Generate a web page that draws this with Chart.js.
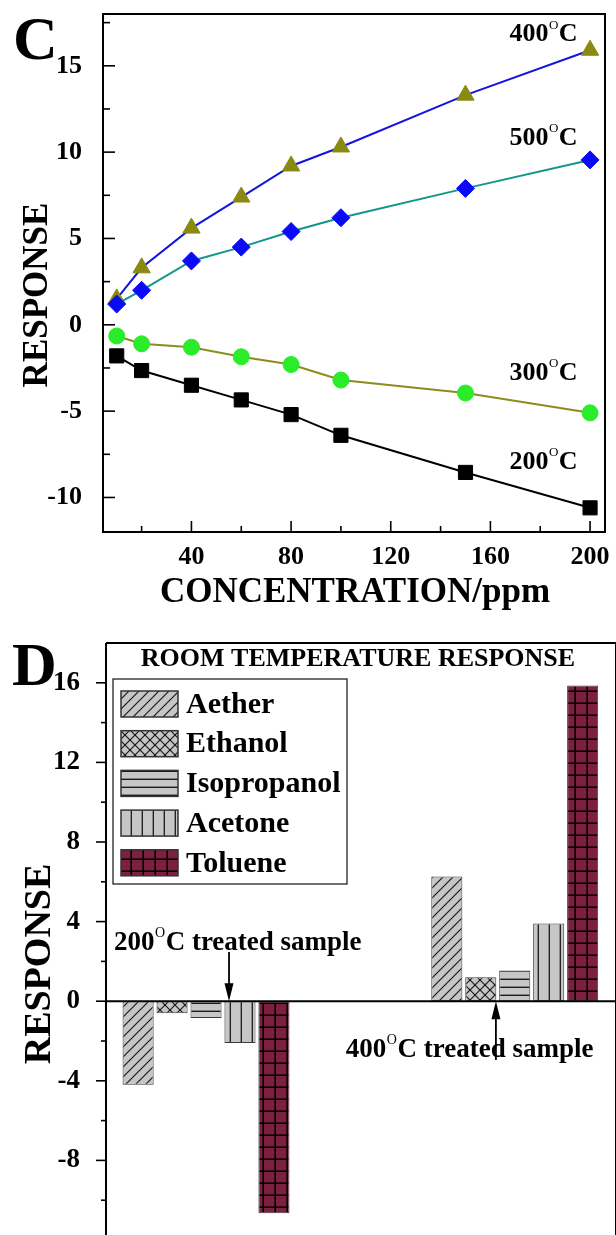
<!DOCTYPE html>
<html>
<head>
<meta charset="utf-8">
<script src="https://cdn.jsdelivr.net/npm/chart.js@4.4.1/dist/chart.umd.min.js"></script>
<style>
  html, body { margin: 0; padding: 0; background: #fff; overflow: hidden; width: 616px; height: 1235px; }
  #wrapC { position: absolute; left: 0; top: 0; }
  #wrapD { position: absolute; left: 0; top: 620px; }
  canvas { display: block; }
</style>
</head>
<body>
<div id="wrapC"><canvas id="chartC" width="616" height="620"></canvas></div>
<div id="wrapD"><canvas id="chartD" width="616" height="640"></canvas></div>
<script>
// ================================================================
//  DATA
// ================================================================
// Panel C: response vs concentration
const concPPM = [10, 20, 40, 60, 80, 100, 150, 200];
const resp200 = [-1.8, -2.65, -3.5, -4.35, -5.2, -6.4, -8.55, -10.6];
const resp300 = [-0.65, -1.1, -1.3, -1.85, -2.3, -3.2, -3.95, -5.1];
const resp400 = [1.5, 3.3, 5.6, 7.4, 9.2, 10.3, 13.3, 15.9];
const resp500 = [1.2, 2.0, 3.7, 4.5, 5.4, 6.2, 7.9, 9.55];
const xTicksC = [20, 40, 60, 80, 100, 120, 140, 160, 180, 200];
const yTicksC = [-10, -7.5, -5, -2.5, 0, 2.5, 5, 7.5, 10, 12.5, 15, 17.5];
const curveNames = ['400°C', '500°C', '300°C', '200°C'];

// Panel D: room temperature response per gas
const gases = ['Aether', 'Ethanol', 'Isopropanol', 'Acetone', 'Toluene'];
const samples = ['200°C treated sample', '400°C treated sample'];
const sampleIdx = [1, 2];
const rtResp200 = [-4.2, -0.6, -0.85, -2.1, -10.65];
const rtResp400 = [6.27, 1.2, 1.54, 3.9, 15.86];
const yTicksD = [-10, -8, -6, -4, -2, 0, 2, 4, 6, 8, 10, 12, 14, 16];

// annotation anchors (data units)
const curveLabelAt = [[195, 16.8], [195, 10.8], [195, -2.8], [195, -7.95]];
const sampleNoteAt = [[0.702, 2.91], [1.453, -2.45]];
const arrowAt = [[1.0745, 2.47, 0], [1.939, -2.95, 0]];

// ================================================================
//  HELPERS
// ================================================================
const SERIF = '"Liberation Serif", "Times New Roman", Times, serif';
Chart.defaults.font.family = SERIF;
Chart.defaults.color = '#000';

// "400°C ..." -> 400 + superscript O + "C ..."
function drawDegText(ctx, str, x, y, size, align) {
  const [head, tail] = str.split('°');
  const big = `bold ${size}px ${SERIF}`;
  const small = `${Math.round(size * 0.5)}px ${SERIF}`;
  ctx.font = big;
  const w1 = ctx.measureText(head).width;
  const w3 = ctx.measureText(tail).width;
  ctx.font = small;
  const w2 = ctx.measureText('O').width + 1;
  const x0 = align === 'right' ? x - (w1 + w2 + w3) : x;
  ctx.textAlign = 'left';
  ctx.textBaseline = 'middle';
  ctx.fillStyle = '#000';
  ctx.font = big; ctx.fillText(head, x0, y);
  ctx.font = small; ctx.fillText('O', x0 + w1 + 0.5, y - size * 0.36);
  ctx.font = big; ctx.fillText(tail, x0 + w1 + w2, y);
}

function seg(ctx, x1, y1, x2, y2) {
  ctx.beginPath(); ctx.moveTo(x1, y1); ctx.lineTo(x2, y2); ctx.stroke();
}

function setTicks(list) {
  return scale => { scale.ticks = list.map(v => ({ value: v })); };
}

// fixed axis box, no label overhang padding
function fixBox(w, h) {
  return s => {
    if (w !== null) s.width = w;
    if (h !== null) s.height = h;
    s.paddingTop = 0; s.paddingBottom = 0; s.paddingLeft = 0; s.paddingRight = 0;
  };
}

// ================================================================
//  PANEL C
// ================================================================
const panelC = {
  id: 'panelC',
  afterDraw(chart) {
    const { ctx, chartArea: a, scales: { x, y } } = chart;
    ctx.save();
    ctx.strokeStyle = '#000';
    ctx.lineWidth = 2;
    ctx.strokeRect(a.left, a.top, a.right - a.left, a.bottom - a.top);
    ctx.lineWidth = 1.6;
    y.ticks.forEach(t => {
      const py = y.getPixelForValue(t.value);
      seg(ctx, a.left, py, a.left + (t.value % 5 === 0 ? 12 : 7), py);
    });
    x.ticks.forEach(t => {
      const px = x.getPixelForValue(t.value);
      seg(ctx, px, a.bottom, px, a.bottom - (t.value % 40 === 0 ? 11 : 6));
    });

    curveNames.forEach((n, i) => {
      drawDegText(ctx, n, x.getPixelForValue(curveLabelAt[i][0]), y.getPixelForValue(curveLabelAt[i][1]), 26, 'right');
    });

    // panel letter + axis titles
    ctx.fillStyle = '#000';
    ctx.textAlign = 'left'; ctx.textBaseline = 'alphabetic';
    ctx.font = `bold 62px ${SERIF}`;
    ctx.fillText('C', 13, 59);
    ctx.textAlign = 'center'; ctx.textBaseline = 'middle';
    ctx.font = `bold 35px ${SERIF}`;
    ctx.fillText('CONCENTRATION/ppm', 355, 593);
    ctx.translate(38, 295);
    ctx.rotate(-Math.PI / 2);
    ctx.fillText('RESPONSE', 0, 0);
    ctx.restore();
  }
};

const pts = arr => concPPM.map((c, i) => ({ x: c, y: arr[i] }));

new Chart(document.getElementById('chartC'), {
  type: 'line',
  data: {
    datasets: [
      { label: '500°C', data: pts(resp500), borderColor: '#12968c', backgroundColor: '#0a0af5',
        pointBorderColor: '#0a0af5', pointStyle: 'rectRot', pointRadius: 9 },
      { label: '400°C', data: pts(resp400), borderColor: '#1414e0', backgroundColor: '#8a8a12',
        pointBorderColor: '#8a8a12', pointStyle: 'triangle', pointRadius: 10 },
      { label: '300°C', data: pts(resp300), borderColor: '#8c8c1c', backgroundColor: '#2aec2a',
        pointBorderColor: '#2aec2a', pointStyle: 'circle', pointRadius: 8 },
      { label: '200°C', data: pts(resp200), borderColor: '#000', backgroundColor: '#000',
        pointBorderColor: '#000', pointStyle: 'rect', pointRadius: 10 }
    ]
  },
  options: {
    responsive: false, animation: false,
    layout: { padding: { top: 14, right: 9, left: 0, bottom: 0 } },
    elements: { line: { borderWidth: 2, tension: 0 }, point: { borderWidth: 1 } },
    plugins: { legend: { display: false }, tooltip: { enabled: false } },
    scales: {
      x: {
        type: 'linear', min: 4.5, max: 206,
        afterBuildTicks: setTicks(xTicksC),
        afterFit: fixBox(null, 88),
        grid: { display: false }, border: { display: false },
        ticks: { autoSkip: false, maxRotation: 0, padding: 2, font: { size: 26, weight: 'bold' },
          callback: v => (v % 40 === 0 ? v : '') }
      },
      y: {
        min: -12, max: 18,
        afterBuildTicks: setTicks(yTicksC),
        afterFit: fixBox(103, null),
        grid: { display: false }, border: { display: false },
        ticks: { autoSkip: false, padding: 13, font: { size: 26, weight: 'bold' },
          callback: v => (v % 5 === 0 ? v : '') }
      }
    }
  },
  plugins: [panelC]
});

// ================================================================
//  PANEL D
// ================================================================
const ctxD = document.getElementById('chartD').getContext('2d');

function makePattern(bg, w, h, draw) {
  const c = document.createElement('canvas');
  c.width = w; c.height = h;
  const g = c.getContext('2d');
  g.fillStyle = bg; g.fillRect(0, 0, w, h);
  g.strokeStyle = '#1a1a1a';
  g.lineWidth = 1.2;
  draw(g, w, h);
  return ctxD.createPattern(c, 'repeat');
}

const GRAY = '#c6c6c6';
const gasFills = [
  makePattern(GRAY, 10, 10, (g, w, h) => {
    seg(g, -w, h * 2, w * 2, -h); seg(g, -w, h, w, -h); seg(g, 0, h * 2, w * 2, 0);
  }),
  makePattern(GRAY, 10, 10, (g, w, h) => {
    seg(g, 0, h, w, 0); seg(g, -w / 2, h / 2, w / 2, -h / 2); seg(g, w / 2, h * 1.5, w * 1.5, h / 2);
    seg(g, 0, 0, w, h); seg(g, -w / 2, h / 2, w / 2, h * 1.5); seg(g, w / 2, -h / 2, w * 1.5, h / 2);
  }),
  makePattern(GRAY, 8, 8, (g, w, h) => { g.lineWidth = 1.4; seg(g, 0, h - 0.7, w, h - 0.7); }),
  makePattern(GRAY, 11, 8, (g, w, h) => { g.lineWidth = 1.3; seg(g, w - 0.7, 0, w - 0.7, h); }),
  makePattern('#7c2040', 12, 12, (g, w, h) => {
    g.strokeStyle = '#000'; g.lineWidth = 1.6;
    seg(g, w - 0.8, 0, w - 0.8, h); seg(g, 0, h - 0.8, w, h - 0.8);
  })
];

const panelD = {
  id: 'panelD',
  afterDraw(chart) {
    const { ctx, chartArea: a, scales: { x, y } } = chart;
    ctx.save();
    ctx.strokeStyle = '#000';
    ctx.lineWidth = 2;
    seg(ctx, a.left, a.top, a.right, a.top);
    seg(ctx, a.left, a.top, a.left, a.bottom);
    seg(ctx, a.right, a.top, a.right, a.bottom);
    const y0 = y.getPixelForValue(0);
    seg(ctx, a.left, y0, a.right, y0);
    ctx.lineWidth = 1.6;
    y.ticks.forEach(t => {
      const py = y.getPixelForValue(t.value);
      seg(ctx, a.left - (t.value % 4 === 0 ? 10 : 5), py, a.left, py);
    });

    // title
    ctx.fillStyle = '#000';
    ctx.textAlign = 'center'; ctx.textBaseline = 'middle';
    ctx.font = `bold 26px ${SERIF}`;
    ctx.fillText('ROOM TEMPERATURE RESPONSE', 358, 39);

    // legend box
    const lx = 113, ly = 59, lw = 234, lh = 205;
    ctx.fillStyle = '#fff';
    ctx.fillRect(lx, ly, lw, lh);
    ctx.lineWidth = 1.3; ctx.strokeStyle = '#222';
    ctx.strokeRect(lx, ly, lw, lh);
    chart.data.datasets.forEach((ds, i) => {
      const cy = ly + 25 + i * 39.7;
      ctx.fillStyle = ds.backgroundColor;
      ctx.fillRect(121, cy - 13, 57, 26);
      ctx.strokeStyle = '#333'; ctx.lineWidth = 1.5;
      ctx.strokeRect(121, cy - 13, 57, 26);
      ctx.fillStyle = '#000';
      ctx.textAlign = 'left'; ctx.textBaseline = 'middle';
      ctx.font = `bold 30px ${SERIF}`;
      ctx.fillText(ds.label, 186, cy + 1);
    });

    // sample notes + arrows
    samples.forEach((s, i) => {
      drawDegText(ctx, s, x.getPixelForValue(sampleNoteAt[i][0]), y.getPixelForValue(sampleNoteAt[i][1]), 27, 'left');
      const ax = x.getPixelForValue(arrowAt[i][0]);
      const yFrom = y.getPixelForValue(arrowAt[i][1]);
      const yTo = y.getPixelForValue(arrowAt[i][2]);
      const dir = Math.sign(yTo - yFrom);
      ctx.strokeStyle = '#000'; ctx.lineWidth = 1.8;
      seg(ctx, ax, yFrom, ax, yTo - dir * 10);
      ctx.fillStyle = '#000';
      ctx.beginPath();
      ctx.moveTo(ax, yTo);
      ctx.lineTo(ax - 4.5, yTo - dir * 18);
      ctx.lineTo(ax + 4.5, yTo - dir * 18);
      ctx.closePath(); ctx.fill();
    });

    // panel letter + axis title
    ctx.fillStyle = '#000';
    ctx.textAlign = 'left'; ctx.textBaseline = 'alphabetic';
    ctx.font = `bold 62px ${SERIF}`;
    ctx.fillText('D', 12, 65);
    ctx.textAlign = 'center'; ctx.textBaseline = 'middle';
    ctx.font = `bold 38px ${SERIF}`;
    ctx.translate(40, 344);
    ctx.rotate(-Math.PI / 2);
    ctx.fillText('RESPONSE', 0, 0);
    ctx.restore();
  }
};

new Chart(ctxD, {
  type: 'bar',
  data: {
    datasets: gases.map((g, i) => ({
      label: g,
      data: sampleIdx.map((s, j) => ({ x: s, y: [rtResp200, rtResp400][j][i] })),
      backgroundColor: gasFills[i],
      borderColor: '#3a3a3a',
      borderWidth: 1,
      borderSkipped: false,
      categoryPercentage: 0.55,
      barPercentage: 0.915
    }))
  },
  options: {
    responsive: false, animation: false,
    layout: { padding: { top: 23, right: 0, left: 0, bottom: 20 } },
    plugins: { legend: { display: false }, tooltip: { enabled: false } },
    scales: {
      x: {
        type: 'linear', min: 0.676, max: 2.328, offset: false,
        afterBuildTicks: setTicks(sampleIdx),
        afterFit: fixBox(null, 0),
        grid: { display: false, offset: false }, border: { display: false },
        ticks: { display: false }
      },
      y: {
        min: -12, max: 18,
        afterBuildTicks: setTicks(yTicksD),
        afterFit: fixBox(106, null),
        grid: { display: false }, border: { display: false },
        ticks: { autoSkip: false, padding: 18, font: { size: 27, weight: 'bold' },
          callback: v => (v % 4 === 0 ? v : '') }
      }
    }
  },
  plugins: [panelD]
});
</script>
</body>
</html>
